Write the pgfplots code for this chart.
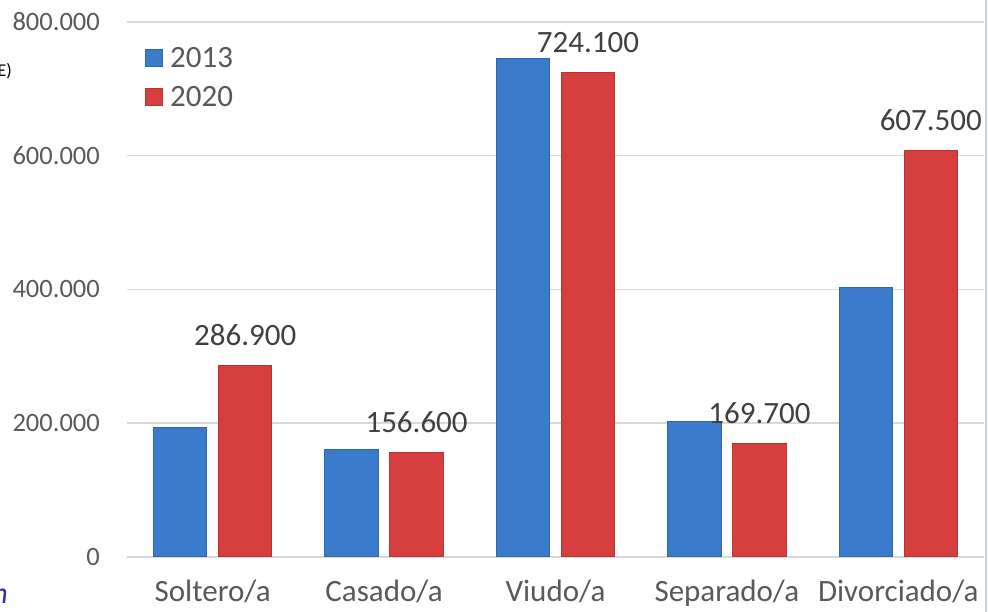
\documentclass[border=0pt]{standalone}
\usepackage{fontspec}
\setmainfont{Carlito}
\usepackage{pgfplots}
\pgfplotsset{compat=1.18}
\definecolor{tickgray}{HTML}{595959}
\definecolor{labgray}{HTML}{404040}
\definecolor{gridgray}{HTML}{D9D9D9}
\definecolor{blueM}{HTML}{3A7BCB}
\definecolor{blueE}{HTML}{2F66AE}
\definecolor{redM}{HTML}{D73E3E}
\definecolor{redE}{HTML}{B43434}
\definecolor{borderc}{HTML}{C8D4E0}
\begin{document}
\begin{tikzpicture}[x=1pt,y=1pt]
\path[use as bounding box] (0,0) rectangle (988,612);
\begin{axis}[
  at={(127pt,55pt)}, anchor=south west,
  scale only axis, width=857pt, height=535pt,
  ybar=11.5pt, bar width=53.5pt,
  xmin=-0.5, xmax=4.5, ymin=0, ymax=800000,
  xtick={0,1,2,3,4},
  xticklabels={Soltero/a,Casado/a,Viudo/a,Separado/a,Divorciado/a},
  ytick={0,200000,400000,600000,800000},
  scaled y ticks=false,
  /pgf/number format/fixed,
  /pgf/number format/precision=0,
  /pgf/number format/1000 sep={.},
  /pgf/number format/assume math mode=true,
  axis line style={draw=none},
  tick style={draw=none},
  major tick length=0pt,
  ymajorgrids,
  grid style={gridgray, line width=1.5pt},
  yticklabel style={font=\fontsize{26.5}{30}\selectfont, color=tickgray, anchor=east, inner sep=0pt, xshift=-27pt},
  xticklabel style={font=\fontsize{31}{36}\selectfont, color=tickgray, anchor=base, inner sep=0pt, yshift=-45pt},
  every node near coord/.append style={font=\fontsize{31}{36}\selectfont, color=labgray, anchor=base, inner sep=0pt, yshift=20pt},
  legend style={at={(0.021,0.953)}, anchor=north west, draw=none, fill=none, inner sep=0pt,
    row sep=17.5pt, font=\fontsize{31}{36}\selectfont, text=tickgray,
    nodes={inner sep=0pt}, /tikz/column sep=7pt},
  legend cell align=left,
  legend image code/.code={\path[#1] (0pt,-8.5pt) rectangle (17pt,8.5pt);},
]
\addplot[draw=blueE, line width=1pt, fill=blueM]
  coordinates {(0,194000) (1,161000) (2,746000) (3,202000) (4,403000)};
\addplot[draw=redE, line width=1pt, fill=redM, nodes near coords]
  coordinates {(0,286900) (1,156600) (2,724100) (3,169700) (4,607500)};
\legend{2013,2020}
\end{axis}
\draw[borderc, line width=2pt] (986,0) -- (986,612);
\node[anchor=east, inner sep=0pt, font=\fontsize{18}{20}\selectfont] at (12,541) {(INE)};
\node[anchor=base east, inner sep=0pt, font=\fontsize{30}{32}\selectfont\itshape, color={rgb,255:red,48;green,48;blue,160}] at (8,8) {n};
\end{tikzpicture}
\end{document}
